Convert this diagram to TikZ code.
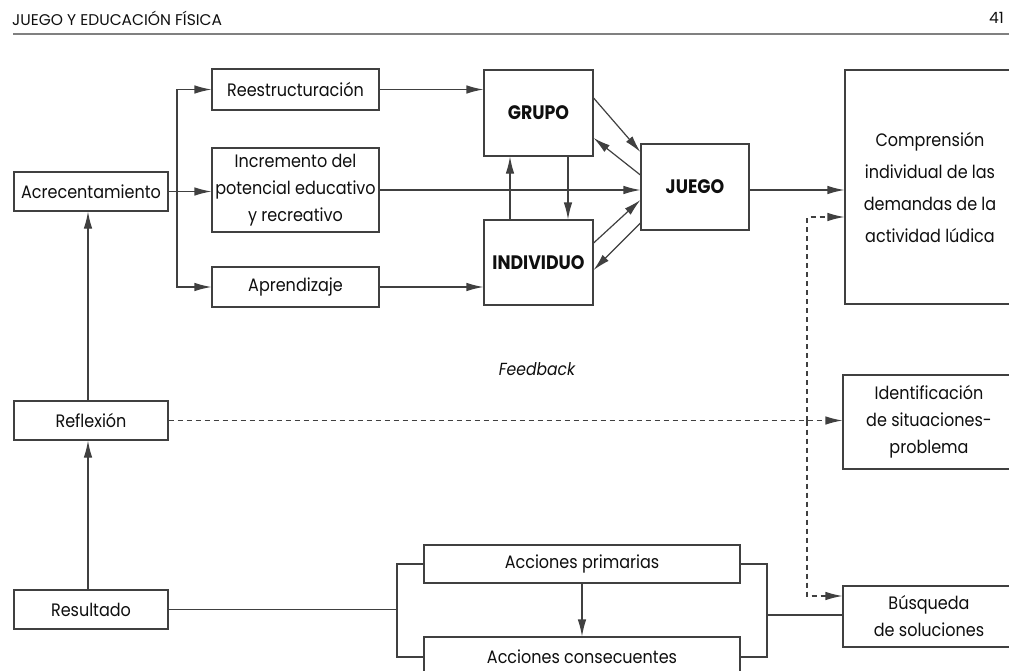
\documentclass[tikz,border=0pt]{standalone}
\usepackage{fontspec}
\setmainfont{Poppins}[FakeStretch=0.89]
\newfontfamily\hdrfont{Poppins}
\usetikzlibrary{arrows.meta,calc}
\definecolor{ln}{gray}{0.25}
\definecolor{tx}{gray}{0.06}
\tikzset{
  box/.style={draw=ln, line width=1.2pt, rectangle, inner sep=0pt, align=center, text=tx,
    font={\fontsize{18}{27}\selectfont}},
  bigbox/.style={box, font={\fontsize{18}{32}\selectfont}},
  boldbox/.style={box, font={\fontsize{19.5}{27}\selectfont\bfseries}},
  con/.style={draw=ln, line width=1.2pt},
  arr/.style={con, -{Latex[length=17pt,width=8.5pt]}},
  darr/.style={arr, dashed, dash pattern=on 5pt off 4pt},
}
\begin{document}
\begin{tikzpicture}[x=1pt,y=-1pt]
\useasboundingbox (0,0) rectangle (1009,670);
\clip (0,0) rectangle (1009,670);
\fill[white] (0,0) rectangle (1009,670);
% header
\node[anchor=west, text=tx, font={\hdrfont\fontsize{15.5}{16}\selectfont}, inner sep=0pt] (hdr) at (12,18) {JUEGO Y EDUCACIÓN FÍSICA};
\node[anchor=east, text=tx, font={\hdrfont\fontsize{15.5}{16}\selectfont}, inner sep=0pt] (pg) at (1004,18) {41};
\draw[line width=2pt, draw=gray] (13,34) -- (1009,34);
% boxes
\node[box, minimum width=154, minimum height=39] (acre) at (91,191.5) {Acrecentamiento};
\node[box, minimum width=167, minimum height=41] (rees) at (295.5,89.5) {Reestructuración};
\node[box, minimum width=167, minimum height=84] (incr) at (295.5,190) {Incremento del\\potencial educativo\\y recreativo};
\node[box, minimum width=167, minimum height=40] (apre) at (295.5,287) {Aprendizaje};
\node[boldbox, minimum width=109, minimum height=86] (grupo) at (538.5,113) {GRUPO};
\node[boldbox, minimum width=109, minimum height=85] (indiv) at (538.5,262.5) {INDIVIDUO};
\node[boldbox, minimum width=108, minimum height=86] (juego) at (695,187) {JUEGO};
\node[bigbox, minimum width=170, minimum height=234] (compr) at (930,187) {Comprensión\\individual de las\\demandas de la\\actividad lúdica};
\node[box, minimum width=172, minimum height=94] (ident) at (929,422) {Identificación\\de situaciones-\\problema};
\node[box, minimum width=172, minimum height=61] (busq) at (929,616.5) {Búsqueda\\de soluciones};
\node[box, minimum width=154, minimum height=39] (refl) at (91,420.5) {Reflexión};
\node[box, minimum width=154, minimum height=39] (resu) at (91,609.5) {Resultado};
\node[box, minimum width=316, minimum height=38] (prim) at (582,564) {Acciones primarias};
\node[box, minimum width=316, minimum height=40] (cons) at (582,657) {Acciones consecuentes};
\node[text=tx, font={\fontsize{17.5}{18}\selectfont\itshape}] (fb) at (537,369) {Feedback};
% connectors
\coordinate (ab) at (177,191.5);
\draw[con] (acre.east) -- (ab);
\draw[arr] (ab) |- (rees.west);
\draw[arr] (ab) |- (apre.west);
\draw[arr] (ab) -- (ab -| incr.west);
\draw[arr] (rees.east) -- (rees.east -| grupo.west);
\draw[arr] (apre.east) -- (apre.east -| indiv.west);
\draw[arr] (incr.east) -- (incr.east -| juego.west);
\draw[arr] ([xshift=-28.5pt]indiv.north) -- ([xshift=-28.5pt]grupo.south);
\draw[arr] ([xshift=29.5pt]grupo.south) -- ([xshift=29.5pt]indiv.north);
\draw[arr] ([yshift=15pt]grupo.east) -- ([yshift=35pt]juego.west);
\draw[arr] ([yshift=12pt]juego.west) -- ([yshift=-25pt]grupo.east);
\draw[arr] ([yshift=19.5pt]indiv.east) -- ([yshift=-13pt]juego.west);
\draw[arr] ([yshift=-36pt]juego.west) -- ([yshift=-7.5pt]indiv.east);
\draw[arr] ([yshift=-3pt]juego.east) -- ([yshift=-3pt]juego.east -| compr.west);
\draw[arr] (refl.north -| 88,0) -- (acre.south -| 88,0);
\draw[arr] (resu.north -| 88,0) -- (refl.south -| 88,0);
\draw[darr] (refl.east) -- (refl.east -| ident.west);
\coordinate (dv) at (807,420.5);
\draw[darr] (dv) |- ([yshift=-30pt]compr.west);
\draw[darr] (dv) |- ([yshift=20.5pt]busq.west);
\coordinate (lb) at (397,609.5);
\draw[con] (resu.east) -- (lb);
\draw[con] (prim.west) -| (lb) |- (cons.west);
\coordinate (rb) at (767,615);
\draw[con] (prim.east) -| (rb) |- (cons.east);
\draw[con] (rb) -- (rb -| busq.west);
\draw[arr] (prim.south) -- (cons.north);
\end{tikzpicture}
\end{document}
